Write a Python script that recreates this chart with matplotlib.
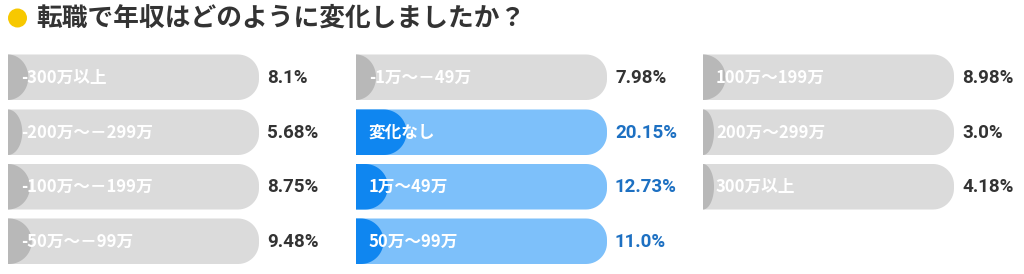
import matplotlib
matplotlib.use("Agg")
import matplotlib.pyplot as plt
import numpy as np
from matplotlib.path import Path
from matplotlib.patches import PathPatch, Circle

plt.rcParams['font.family'] = ['Noto Sans CJK JP', 'DejaVu Sans']

title = "転職で年収はどのように変化しましたか？"
categories = ["-300万以上", "-200万～－299万", "-100万～－199万", "-50万～－99万",
              "-1万～－49万", "変化なし", "1万～49万", "50万～99万",
              "100万～199万", "200万～299万", "300万以上"]
values = [8.1, 5.68, 8.75, 9.48, 7.98, 20.15, 12.73, 11.0, 8.98, 3.0, 4.18]
value_labels = ["8.1%", "5.68%", "8.75%", "9.48%", "7.98%", "20.15%", "12.73%",
                "11.0%", "8.98%", "3.0%", "4.18%"]
highlight = [False, False, False, False, False, True, True, True, False, False, False]

W, H = 1024, 274
fig = plt.figure(figsize=(W / 100, H / 100), dpi=100)
ax = fig.add_axes([0, 0, 1, 1])
ax.set_xlim(0, W)
ax.set_ylim(H, 0)
ax.axis('off')

GRAY_BG, GRAY_FILL = '#dbdbdb', '#b8b8b8'
BLUE_BG, BLUE_FILL = '#7dc0fa', '#0f86f0'
DARK, BLUE_TXT = '#333333', '#1d70c2'


def right_rounded(x0, y0, w, h, r):
    top = [(x0, y0), (x0 + w - r, y0)]
    arc1 = [(x0 + w - r + r * np.cos(a), y0 + r + r * np.sin(a)) for a in np.linspace(-np.pi / 2, 0, 15)]
    arc2 = [(x0 + w - r + r * np.cos(a), y0 + h - r + r * np.sin(a)) for a in np.linspace(0, np.pi / 2, 15)]
    pts = top + arc1 + arc2 + [(x0, y0 + h), (x0, y0)]
    return Path(pts)


def cap_fill(x0, y0, w, h):
    rx = min(w, h / 2)
    ry = h / 2
    cx, cy = x0 + w - rx, y0 + h / 2
    arc = [(cx + rx * np.cos(a), cy + ry * np.sin(a)) for a in np.linspace(-np.pi / 2, np.pi / 2, 40)]
    pts = [(x0, y0), (cx, y0)] + arc + [(cx, y0 + h), (x0, y0 + h), (x0, y0)]
    return Path(pts)


# title
ax.add_patch(Circle((17.5, 18), 9.5, color='#f7c800', lw=0))
ax.text(36, 18.5, title, fontsize=18.5, fontweight='bold', color=DARK, va='center', ha='left')

col_x = [8, 356, 703]
row_y = [54.5, 109.5, 164, 218.5]
bar_w, bar_h = 251, 45.5
rows_per_col = 4

for i, (cat, v, lab, hl) in enumerate(zip(categories, values, value_labels, highlight)):
    c, r = divmod(i, rows_per_col)
    x0, y0 = col_x[c], row_y[r]
    bg, fc = (BLUE_BG, BLUE_FILL) if hl else (GRAY_BG, GRAY_FILL)
    ax.add_patch(PathPatch(right_rounded(x0, y0, bar_w, bar_h, 21), fc=bg, ec='none'))
    fw = max(bar_w * v / 100.0, 11)
    ax.add_patch(PathPatch(cap_fill(x0, y0, fw, bar_h), fc=fc, ec='none'))
    cy = y0 + bar_h / 2
    ax.text(x0 + 13, cy + 0.5, cat, fontsize=12, fontweight='bold', color='white',
            va='center', ha='left')
    ax.text(x0 + bar_w + 8, cy + 0.5, lab, fontsize=13.5, fontweight='bold',
            color=BLUE_TXT if hl else DARK, va='center', ha='left',
            family=['Roboto', 'DejaVu Sans'])

fig.savefig('out.png', dpi=100, facecolor='white')
